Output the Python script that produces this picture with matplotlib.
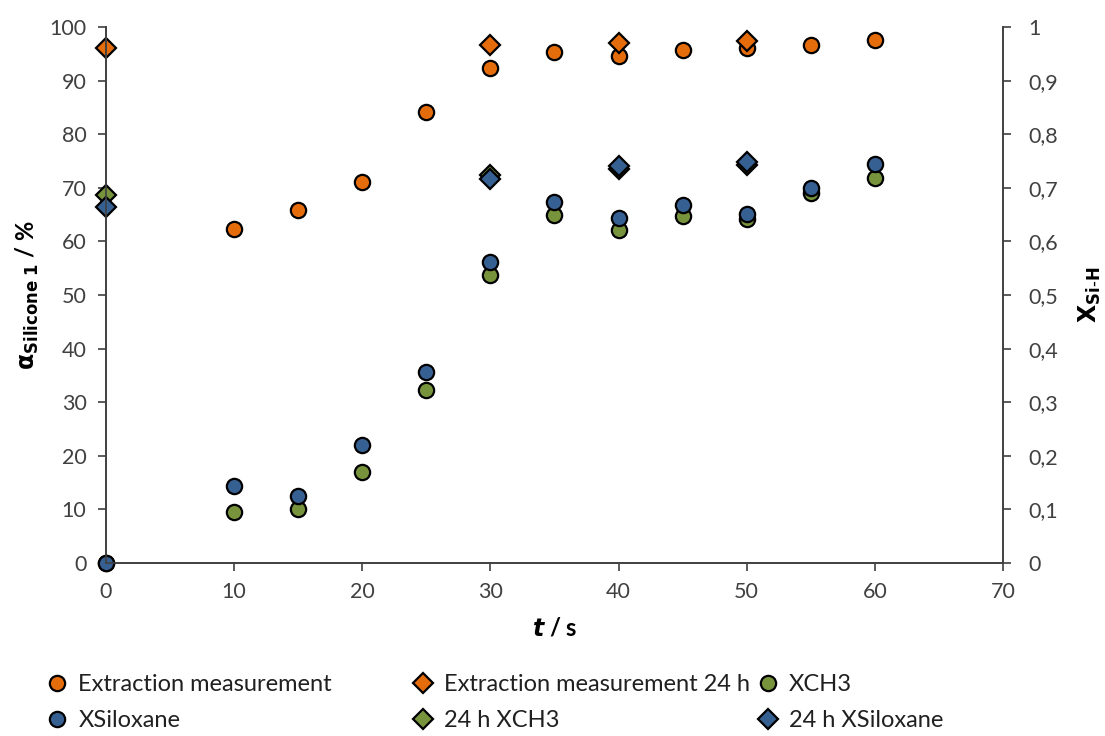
import matplotlib.pyplot as plt
from matplotlib.ticker import FuncFormatter, MultipleLocator

plt.rcParams['font.family'] = ['Lato', 'DejaVu Sans']

# data
t_ext = [10, 15, 20, 25, 30, 35, 40, 45, 50, 55, 60]
ext = [62.3, 65.9, 71.1, 84.1, 92.3, 95.4, 94.6, 95.8, 96.0, 96.6, 97.6]

t_24 = [0, 30, 40, 50]
ext_24 = [96.1, 96.6, 97.1, 97.4]

t_x = [0, 10, 15, 20, 25, 30, 35, 40, 45, 50, 55, 60]
x_ch3 = [0.0, 0.096, 0.100, 0.169, 0.323, 0.537, 0.649, 0.621, 0.647, 0.641, 0.690, 0.718]
x_silox = [0.0, 0.144, 0.125, 0.220, 0.356, 0.562, 0.674, 0.643, 0.668, 0.651, 0.699, 0.744]

x_ch3_24 = [0.687, 0.723, 0.736, 0.743]
x_silox_24 = [0.665, 0.716, 0.741, 0.749]

orange = '#E46C0A'
green = '#77933C'
blue = '#376092'

fig = plt.figure(figsize=(11.05, 7.36), dpi=100)
ax = fig.add_axes([0.0959, 0.235, 0.8118, 0.7283])
ax2 = ax.twinx()

mk = dict(linestyle='none', markeredgecolor='black', markeredgewidth=1.6, clip_on=False)

h1, = ax.plot(t_ext, ext, 'o', markersize=11, color=orange, label='Extraction measurement', **mk)
h2, = ax.plot(t_24, ext_24, 'D', markersize=10, color=orange, label='Extraction measurement 24 h', **mk)
h3, = ax2.plot(t_x, x_ch3, 'o', markersize=11, color=green, label='XCH3', **mk)
h4, = ax2.plot(t_x, x_silox, 'o', markersize=11, color=blue, label='XSiloxane', **mk)
h5, = ax2.plot(t_24, x_ch3_24, 'D', markersize=10, color=green, label='24 h XCH3', **mk)
h6, = ax2.plot(t_24, x_silox_24, 'D', markersize=10, color=blue, label='24 h XSiloxane', **mk)

ax.set_xlim(0, 70)
ax.set_ylim(0, 100)
ax2.set_ylim(0, 1)
ax.xaxis.set_major_locator(MultipleLocator(10))
ax.yaxis.set_major_locator(MultipleLocator(10))
ax2.yaxis.set_major_locator(MultipleLocator(0.1))
ax2.yaxis.set_major_formatter(FuncFormatter(lambda v, p: ('%g' % round(v, 1)).replace('.', ',')))

for a in (ax, ax2):
    a.spines['top'].set_visible(False)
    for s in a.spines.values():
        s.set_color('#404040')
        s.set_linewidth(1.2)
    a.tick_params(direction='out', length=6, width=1.2, color='#404040',
                  labelsize=15.5, labelcolor='#404040')
ax.tick_params(axis='y', pad=8)
ax2.tick_params(axis='y', pad=12)
ax.tick_params(axis='x', pad=8)

ax.set_xlabel(r'$\boldsymbol{t}$ / s', fontsize=17, fontweight='bold', labelpad=10)
ax.set_ylabel(r'$\mathbf{\alpha}_{\mathbf{Silicone\ 1}}$ / %', fontsize=17, fontweight='bold', labelpad=6)
ax2.set_ylabel(r'$\mathbf{X}_{\mathbf{Si\text{-}H}}$', fontsize=17, rotation=90, labelpad=14)

# legend laid out as a fixed 3-column grid, like the original
cols = [([h1, h4], ['Extraction measurement', 'XSiloxane'], 0.025),
        ([h2, h5], ['Extraction measurement 24 h', '24 h XCH3'], 0.356),
        ([h3, h6], ['XCH3', '24 h XSiloxane'], 0.668)]
for hs, labs, xa in cols:
    fig.legend(hs, labs, loc='lower left', bbox_to_anchor=(xa, -0.016), frameon=False,
               fontsize=17, labelcolor='#202020', handletextpad=0.35,
               handlelength=1.1, labelspacing=0.65, borderaxespad=0.3)

fig.savefig('out.png', dpi=100)
